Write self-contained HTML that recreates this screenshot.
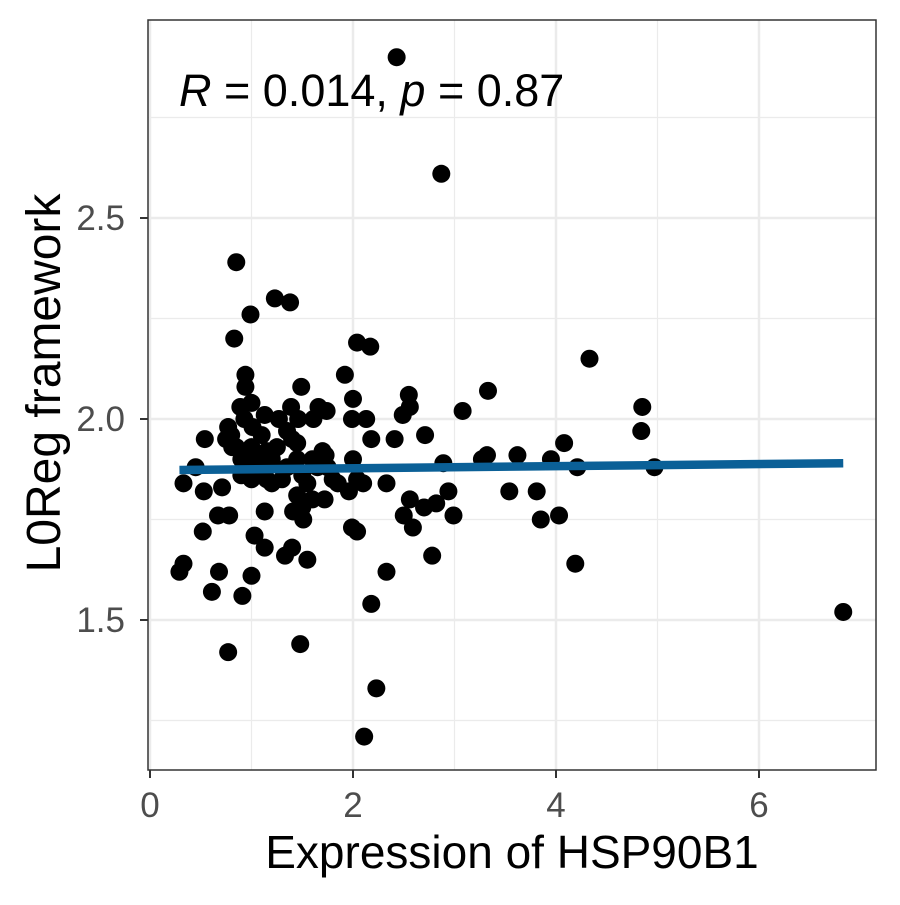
<!DOCTYPE html>
<html><head><meta charset="utf-8"><style>
body{margin:0;background:#fff}
svg text{font-family:"Liberation Sans",Arial,sans-serif}
</style></head><body>
<svg id="chart" width="900" height="900" xmlns="http://www.w3.org/2000/svg">
<rect width="900" height="900" fill="#fff"/>
<g id="grid"></g>
<g id="marks"></g>
<rect x="148" y="20" width="728" height="750" fill="none" stroke="#333" stroke-width="1.5"/>
<g id="axes"></g>
<text x="179" y="106" font-size="45" fill="#000"><tspan font-style="italic">R</tspan> = 0.014, <tspan font-style="italic">p</tspan> = 0.87</text>
<text x="512" y="868" font-size="46" text-anchor="middle" fill="#000">Expression of HSP90B1</text>
<text transform="translate(60,383) rotate(-90)" font-size="48" text-anchor="middle" fill="#000">L0Reg framework</text>
</svg>
<script>
const xVals=[2.43,2.87,0.85,1.23,1.38,0.99,0.83,2.04,2.17,4.33,1.92,0.94,0.94,1.49,2.55,3.33,2.0,2.56,4.85,3.08,1.74,0.89,1.66,1.39,2.49,1.13,2.13,1.99,1.27,1.61,1.46,0.77,1.01,2.41,2.71,0.54,2.18,4.08,1.45,4.84,0.81,3.32,3.62,3.95,2.89,3.27,1.73,2.0,4.21,4.97,0.45,0.33,0.53,0.71,2.04,2.33,2.56,2.94,3.54,3.81,1.45,1.72,1.96,2.82,2.70,2.50,2.99,3.85,4.03,2.59,1.41,1.51,1.13,0.67,0.78,0.52,2.04,1.99,1.03,1.13,1.40,1.33,1.55,2.78,4.19,0.33,0.29,0.68,2.33,1.00,0.61,0.91,2.18,6.83,1.48,0.77,2.23,2.11,
0.75,0.8,0.85,0.9,0.95,1.0,1.05,1.1,1.15,1.2,1.25,1.3,1.35,1.4,1.45,1.5,1.55,1.6,1.65,1.7,1.75,1.8,1.85,0.9,1.0,1.1,1.2,1.35,1.5,1.6,2.1,1.0,0.93,1.15];
const yVals=[2.90,2.61,2.39,2.30,2.29,2.26,2.20,2.19,2.18,2.15,2.11,2.11,2.08,2.08,2.06,2.07,2.05,2.03,2.03,2.02,2.02,2.03,2.03,2.03,2.01,2.01,2.00,2.00,2.00,2.00,2.00,1.98,1.98,1.95,1.96,1.95,1.95,1.94,1.94,1.97,1.93,1.91,1.91,1.90,1.89,1.90,1.91,1.90,1.88,1.88,1.88,1.84,1.82,1.83,1.85,1.84,1.80,1.82,1.82,1.82,1.81,1.80,1.82,1.79,1.78,1.76,1.76,1.75,1.76,1.73,1.77,1.75,1.77,1.76,1.76,1.72,1.72,1.73,1.71,1.68,1.68,1.66,1.65,1.66,1.64,1.64,1.62,1.62,1.62,1.61,1.57,1.56,1.54,1.52,1.44,1.42,1.33,1.21,
1.95,1.96,1.93,1.9,1.88,1.85,1.9,1.87,1.85,1.9,1.93,1.85,1.88,1.95,1.9,1.86,1.84,1.9,1.88,1.92,1.88,1.85,1.84,1.86,1.93,1.96,1.84,1.97,1.78,1.8,1.84,2.04,2.0,1.92];
const fitX=[0.29,6.83];
const fitY=[1.873,1.890];
const xTicks=[0,2,4,6];
const xMinor=[1,3,5];
const yTicks=[1.5,2.0,2.5];
const yMinor=[1.25,1.75,2.25,2.75];
const yTickLabels=["1.5","2.0","2.5"];
const xs=v=>150+v*101.5;
const ys=v=>419-(v-2.0)*402;
const NS="http://www.w3.org/2000/svg";
function mk(p,t,a){const e=document.createElementNS(NS,t);for(const k in a)e.setAttribute(k,a[k]);p.appendChild(e);return e;}
const grid=document.getElementById('grid'),marks=document.getElementById('marks'),axes=document.getElementById('axes');
xMinor.forEach(v=>{const l=mk(grid,'line',{x1:xs(v),x2:xs(v),y1:20,y2:770,stroke:'#ebebeb','stroke-width':1.2});

});
yMinor.forEach(v=>{const l=mk(grid,'line',{x1:148,x2:876,y1:ys(v),y2:ys(v),stroke:'#ebebeb','stroke-width':1.2});

});
xTicks.forEach(v=>{const l=mk(grid,'line',{x1:xs(v),x2:xs(v),y1:20,y2:770,stroke:'#ebebeb','stroke-width':2.5});


const t=mk(axes,'line',{x1:xs(v),x2:xs(v),y1:770,y2:778,stroke:'#333','stroke-width':2});


const tx=mk(axes,'text',{x:xs(v),y:817,'font-size':35,'text-anchor':'middle',fill:'#4d4d4d'});tx.textContent=v;

});
yTicks.forEach((v,i)=>{const l=mk(grid,'line',{x1:148,x2:876,y1:ys(v),y2:ys(v),stroke:'#ebebeb','stroke-width':2.5});


const t=mk(axes,'line',{x1:140,x2:148,y1:ys(v),y2:ys(v),stroke:'#333','stroke-width':2});


const tx=mk(axes,'text',{x:125,y:ys(v)+12,'font-size':35,'text-anchor':'end',fill:'#4d4d4d'});tx.textContent=yTickLabels[i];

});
xVals.forEach((v,i)=>{const c=mk(marks,'circle',{cx:xs(v),cy:ys(yVals[i]),r:9,fill:'#000'});

});
const fl=mk(marks,'line',{x1:xs(fitX[0]),y1:ys(fitY[0]),x2:xs(fitX[1]),y2:ys(fitY[1]),stroke:'#0b6097','stroke-width':8.5});


</script>
</body></html>
